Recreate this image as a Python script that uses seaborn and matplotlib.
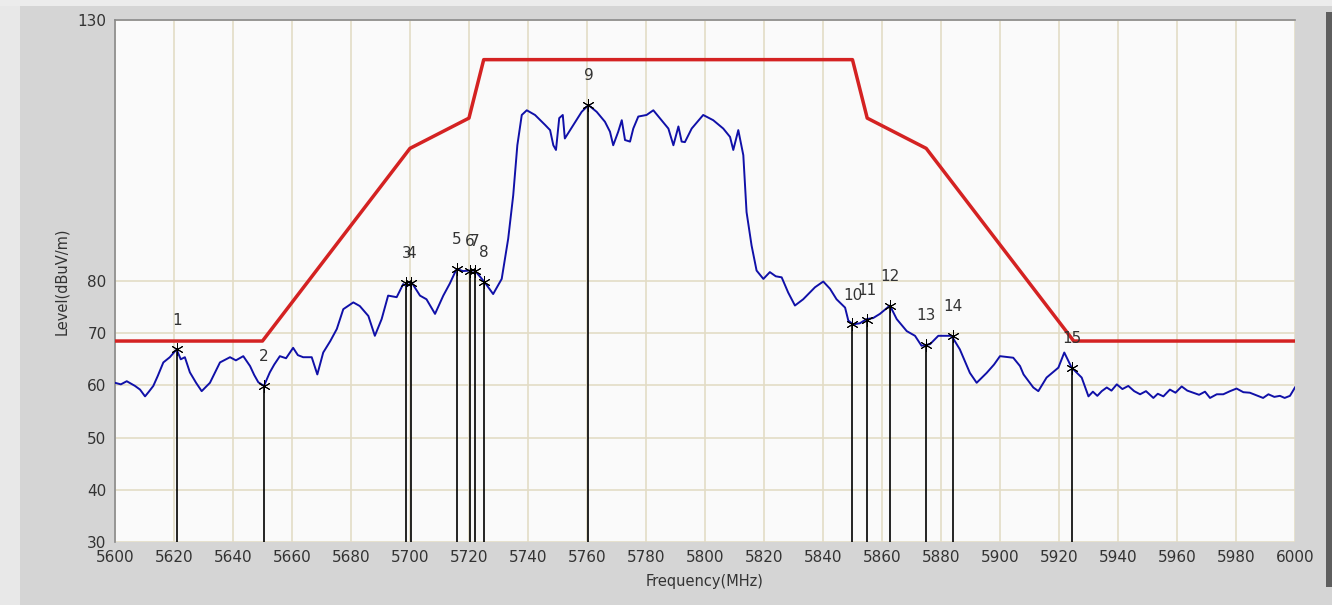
import matplotlib
matplotlib.use("Agg")
import matplotlib.pyplot as plt
from matplotlib.patches import Rectangle
import seaborn as sns
import pandas as pd

# ---- data ----
trace_freq = [5600, 5602, 5604, 5606.8, 5608.5, 5610.2, 5611.5, 5613, 5614.5, 5616.4,
              5618.6, 5620.9, 5622.3, 5623.7, 5625.4, 5627.5, 5629.4, 5632.2, 5635.6, 5637.3,
              5639, 5641, 5643.5, 5645.8, 5647.2, 5648.6, 5650.5, 5652.5, 5654, 5655.9,
              5658, 5660.4, 5662, 5663.8, 5666.7, 5668.6, 5670.6, 5673, 5675.2, 5677.4,
              5680.8, 5683, 5685.9, 5688.1, 5690.4, 5692.6, 5695.5, 5697.7, 5699, 5700.6,
              5703.4, 5705.6, 5708.5, 5711.3, 5713.5, 5715.8, 5718, 5720.3, 5722, 5723.5,
              5725.4, 5728.2, 5731.1, 5733.3, 5735, 5736.4, 5737.9, 5739.6, 5742.4, 5745.8,
              5747.5, 5748.6, 5749.5, 5750.6, 5751.8, 5752.5, 5755.4, 5758.2, 5760.5, 5763.3,
              5766.1, 5767.8, 5768.9, 5770.6, 5771.8, 5772.9, 5774.6, 5775.7, 5777.4, 5780.2,
              5782.5, 5784.7, 5787.6, 5789.3, 5791, 5792.1, 5793.2, 5795.5, 5799.4, 5802.8,
              5806.2, 5808.5, 5809.6, 5811.3, 5813, 5814.1, 5815.8, 5817.5, 5819.8, 5822,
              5824, 5826, 5828.2, 5830.5, 5833.3, 5837.3, 5840.1, 5842.4, 5844.6, 5847.5,
              5848.6, 5850.3, 5852.5, 5854.8, 5857, 5859.3, 5862.7, 5865, 5868.4, 5871.2,
              5873.4, 5876.3, 5879.1, 5883.6, 5886.4, 5889.8, 5892.1, 5895.5, 5898, 5900,
              5904.5, 5906.8, 5908, 5911.3, 5913, 5915.8, 5919.8, 5921.8, 5924.3, 5927.7,
              5930, 5931.5, 5933, 5934.5, 5936.2, 5937.8, 5939.6, 5941.5, 5943.5, 5945.5,
              5947.5, 5949.5, 5952, 5953.5, 5955.4, 5957.6, 5959.5, 5961.6, 5963.5, 5965.5,
              5967.5, 5969.5, 5971.2, 5973.5, 5975.7, 5978, 5980.2, 5982.5, 5984.7, 5987,
              5989.2, 5991, 5993, 5994.9, 5996.5, 5998.3, 6000]
trace_level = [60.5, 60.2, 60.8, 59.9, 59.2, 57.9, 58.8, 59.9, 61.8, 64.4,
               65.4, 66.9, 65.0, 65.4, 62.5, 60.5, 58.9, 60.5, 64.4, 64.9,
               65.4, 64.8, 65.6, 63.7, 62.0, 60.6, 59.9, 62.5, 64.0, 65.6,
               65.2, 67.2, 65.8, 65.4, 65.4, 62.1, 66.3, 68.5, 70.8, 74.6,
               75.9, 75.2, 73.3, 69.5, 72.7, 77.2, 76.9, 79.4, 79.0, 79.7,
               77.2, 76.5, 73.7, 77.2, 79.5, 82.3, 81.9, 82.0, 82.0, 81.0,
               79.7, 77.5, 80.4, 88.1, 96.4, 106.0, 111.8, 112.7, 111.8, 109.9,
               108.9, 106.0, 105.1, 111.2, 111.8, 107.3, 109.9, 112.4, 113.7, 112.4,
               110.5, 108.6, 106.0, 108.6, 110.8, 107.0, 106.7, 109.2, 111.5, 111.8,
               112.7, 111.2, 109.2, 106.0, 109.6, 106.7, 106.6, 109.2, 111.8, 110.8,
               109.2, 107.6, 105.1, 108.9, 104.1, 93.2, 86.8, 82.0, 80.4, 81.7,
               80.9, 80.7, 77.8, 75.3, 76.5, 78.8, 79.9, 78.5, 76.5, 74.9,
               72.4, 71.7, 71.9, 72.7, 72.9, 73.7, 75.3, 72.7, 70.4, 69.5,
               67.6, 67.9, 69.5, 69.5, 66.9, 62.4, 60.5, 62.4, 64.0, 65.6,
               65.3, 63.7, 62.1, 59.6, 58.9, 61.5, 63.4, 66.3, 63.4, 61.5,
               57.9, 58.8, 58.0, 58.9, 59.6, 59.0, 60.2, 59.3, 59.9, 58.9,
               58.3, 58.9, 57.6, 58.4, 57.9, 59.2, 58.6, 59.8, 59.0, 58.6,
               58.2, 58.8, 57.6, 58.3, 58.3, 58.9, 59.4, 58.7, 58.6, 58.1,
               57.6, 58.3, 57.8, 58.0, 57.6, 58.0, 59.6]

limit_freq = [5600, 5650, 5700, 5720, 5725, 5850, 5855, 5875, 5925, 6000]
limit_level = [68.5, 68.5, 105.4, 111.2, 122.4, 122.4, 111.2, 105.4, 68.5, 68.5]

marker_ids = ["1", "2", "3", "4", "5", "6", "7", "8", "9", "10", "11", "12", "13", "14", "15"]
marker_freq = [5621, 5650.5, 5698.8, 5700.5, 5716, 5720.3, 5722, 5725.2, 5760.5,
               5850, 5855, 5862.7, 5875, 5884, 5924.5]
marker_level = [66.9, 59.9, 79.6, 79.7, 82.3, 82.0, 82.0, 79.8, 113.7,
                71.7, 72.6, 75.3, 67.8, 69.5, 63.4]

x_ticks = list(range(5600, 6001, 20))
y_ticks = [30, 40, 50, 60, 70, 80, 130]

# ---- figure ----
fig = plt.figure(figsize=(13.32, 6.05), dpi=100, facecolor="#d5d5d5")
# window frame shading
fig.patches.append(Rectangle((0, 0), 0.015, 1, transform=fig.transFigure,
                             facecolor="#e8e8e8", edgecolor="none", zorder=0))
fig.patches.append(Rectangle((0, 0.99), 1, 0.01, transform=fig.transFigure,
                             facecolor="#ececec", edgecolor="none", zorder=0))
fig.patches.append(Rectangle((0.9955, 0.03), 0.0045, 0.95, transform=fig.transFigure,
                             facecolor="#5e5e5e", edgecolor="none", zorder=0))

ax = fig.add_axes([0.0863, 0.1041, 0.8859, 0.8629])
ax.set_facecolor("#fafafa")

df_trace = pd.DataFrame({"Frequency": trace_freq, "Level": trace_level})
df_limit = pd.DataFrame({"Frequency": limit_freq, "Level": limit_level})

ax.vlines(marker_freq, 30, marker_level, colors="black", linewidth=1.2, zorder=3)
sns.lineplot(data=df_trace, x="Frequency", y="Level", ax=ax, color="#1010a8",
             linewidth=1.4, sort=False, zorder=4)
sns.lineplot(data=df_limit, x="Frequency", y="Level", ax=ax, color="#d42222",
             linewidth=2.5, sort=False, zorder=5)
sns.scatterplot(x=marker_freq, y=marker_level, ax=ax, marker=(6, 2, 0), s=70,
                color="black", linewidth=0.7, zorder=6)
for lab, fx, fy in zip(marker_ids, marker_freq, marker_level):
    ax.annotate(lab, (fx, fy), xytext=(0, 21), textcoords="offset points",
                ha="center", va="center", fontsize=11, color="#333333", zorder=7)

ax.set_xlim(5600, 6000)
ax.set_ylim(30, 130)
ax.set_xticks(x_ticks)
ax.set_yticks(y_ticks)
ax.tick_params(length=0, labelsize=11, labelcolor="#333333", pad=6)
ax.grid(True, color="#e3dcc6", linewidth=1.2, zorder=0)
ax.set_axisbelow(True)
for side in ["right", "bottom"]:
    ax.spines[side].set_visible(False)
for side in ["left", "top"]:
    ax.spines[side].set_color("#8a8a8a")
    ax.spines[side].set_linewidth(1.2)

ax.set_xlabel("Frequency(MHz)", fontsize=10.5, color="#333333", labelpad=6)
ax.set_ylabel("Level(dBuV/m)", fontsize=10.5, color="#333333", labelpad=6)

fig.savefig("out.png", dpi=100, facecolor=fig.get_facecolor())
